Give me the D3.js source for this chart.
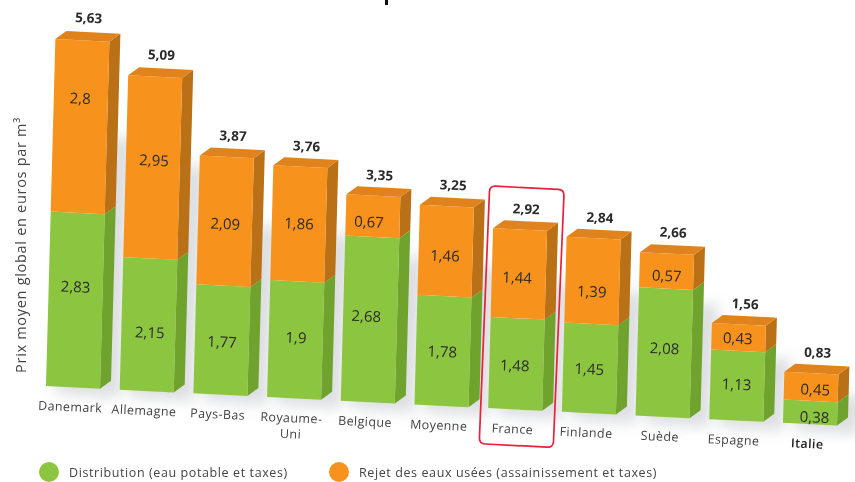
<!DOCTYPE html>
<html>
<head>
<meta charset="utf-8">
<script src="https://d3js.org/d3.v7.min.js"></script>
<style>
  html, body { margin: 0; padding: 0; background: #fff; }
  text { font-family: "Open Sans", sans-serif; fill: #2b2b2b; }
</style>
</head>
<body>
<div class="chart"></div>
<script>
var svgWidth = 855;
var svgHeight = 482;

// Values
var countries = ["Danemark", "Allemagne", "Pays-Bas", "Royaume-Uni", "Belgique", "Moyenne", "France", "Finlande", "Suède", "Espagne", "Italie"];
var distribution = [2.83, 2.15, 1.77, 1.9, 2.68, 1.78, 1.48, 1.45, 2.08, 1.13, 0.38];
var sewage = [2.8, 2.95, 2.09, 1.86, 0.67, 1.46, 1.44, 1.39, 0.57, 0.43, 0.45];
var totals = [5.63, 5.09, 3.87, 3.76, 3.35, 3.25, 2.92, 2.84, 2.66, 1.56, 0.83];
var legendLabels = ["Distribution (eau potable et taxes)", "Rejet des eaux usées (assainissement et taxes)"];

// The labels inside the bars are not centred in the original: nudges in px (+ is down / right)
var distributionNudge = [-13, 8, 2, -2, -3, 1, 2, 1, -4, -1, 5];
var sewageNudge = [-28, -7, 3, 0, 6, 5, 4, 11, 5, 1, 3];
var innerNudgeX = [0, 1, 0, 0, -4, -1, -2, -1, 0, -1, 4];

var green = { front: "#8cc63f", side: "#6fa32e" };
var orange = { front: "#f7931e", side: "#b96f12", top: "#e0831b" };

// The picture is a sheared 3D view: a flat bar position goes through this
var originX = 46, originY = 386;
var slopeDown = 0.05, lean = 0.027;
var depthX = 11, depthY = -8;

function project(u, v) {
  return [originX + u + lean * v, originY + slopeDown * u - v];
}

var x_scale = d3.scaleBand()
  .domain(countries)
  .range([0, 791])
  .paddingInner(0.267);

var y_scale = d3.scaleLinear()
  .domain([0, 5.63])
  .range([0, 347]);

var fmt = function (d) { return String(d).replace(".", ","); };
var line = function (pts) { return "M" + pts.map(function (p) { return p.join(","); }).join("L") + "Z"; };
var shift = function (p, dx, dy) { return [p[0] + dx, p[1] + dy]; };

var svg = d3.select(".chart")
  .append("svg")
  .attr("width", svgWidth)
  .attr("height", svgHeight)
  .style("display", "block");

var defs = svg.append("defs");
defs.append("filter").attr("id", "soft")
  .attr("x", "-40%").attr("y", "-20%").attr("width", "180%").attr("height", "140%")
  .append("feGaussianBlur").attr("stdDeviation", 7);
defs.append("filter").attr("id", "scan")
  .append("feGaussianBlur").attr("stdDeviation", 0.45);

// What is left of the cropped title: a single stroke at the top edge
svg.append("rect")
  .attr("x", 385).attr("y", 0)
  .attr("width", 3).attr("height", 5)
  .attr("fill", "#111");

var chartGroup = svg.append("g").attr("filter", "url(#scan)");

// Soft shadow behind each bar
chartGroup.selectAll(".shadow")
  .data(countries)
  .enter()
  .append("path")
  .attr("class", "shadow")
  .attr("fill", "#c4c8cc")
  .attr("opacity", 0.6)
  .attr("filter", "url(#soft)")
  .attr("d", function (d, i) {
    var u = x_scale(d), w = x_scale.bandwidth();
    var h = y_scale(distribution[i] + sewage[i]) * 0.75;
    return line([project(u + 10, 0), project(u + w + 14, 0), project(u + w + 20, h), project(u + w, h), project(u, 8)].map(function (p) { return shift(p, 6, 8); }));
  });

// One bar per country, green below and orange on top
function drawSegment(cls, colors, base, size) {
  var bars = chartGroup.selectAll("." + cls)
    .data(countries)
    .enter()
    .append("g")
    .attr("class", cls);

  var corners = function (d, i) {
    var u = x_scale(d), w = x_scale.bandwidth();
    var v0 = y_scale(base(i)), v1 = y_scale(base(i) + size[i]);
    return { bl: project(u, v0), br: project(u + w, v0), tr: project(u + w, v1), tl: project(u, v1) };
  };

  bars.append("path")
    .attr("fill", colors.side)
    .attr("d", function (d, i) {
      var c = corners(d, i);
      return line([c.br, shift(c.br, depthX, depthY), shift(c.tr, depthX, depthY), c.tr]);
    });

  bars.append("path")
    .attr("fill", colors.front)
    .attr("d", function (d, i) {
      var c = corners(d, i);
      return line([c.bl, c.br, c.tr, c.tl]);
    });

  if (colors.top) {
    bars.append("path")
      .attr("fill", colors.top)
      .attr("d", function (d, i) {
        var c = corners(d, i);
        return line([c.tl, c.tr, shift(c.tr, depthX, depthY), shift(c.tl, depthX, depthY)]);
      });
  }
}

drawSegment("distribution", green, function () { return 0; }, distribution);
drawSegment("sewage", orange, function (i) { return distribution[i]; }, sewage);

// Red frame round France
var frameI = countries.indexOf("France");
var frameU = x_scale("France");
var frameW = x_scale.bandwidth();
var frameBottom = -36, frameTop = y_scale(totals[frameI]) + 42;
var framePts = [
  project(frameU - 8, frameBottom),
  project(frameU + frameW + 12, frameBottom),
  project(frameU + frameW + 16, frameTop),
  project(frameU - 4.5, frameTop)
];
var frameD = "";
framePts.forEach(function (p, i) {
  var prev = framePts[(i + 3) % 4], next = framePts[(i + 1) % 4];
  var a = d3.interpolate(p, prev)(6 / Math.hypot(p[0] - prev[0], p[1] - prev[1]));
  var b = d3.interpolate(p, next)(6 / Math.hypot(p[0] - next[0], p[1] - next[1]));
  frameD += (i === 0 ? "M" : "L") + a.join(",") + "Q" + p.join(",") + " " + b.join(",");
});
chartGroup.append("path")
  .attr("d", frameD + "Z")
  .attr("fill", "none")
  .attr("stroke", "#e8203a")
  .attr("stroke-width", 1.7);

// Labels, tilted a little like the sheared bars
function placeText(sel, fn) {
  sel.attr("transform", function (d, i) {
    var p = fn(d, i);
    return "translate(" + p[0] + "," + p[1] + ") rotate(2.5)";
  }).attr("text-anchor", "middle");
}

var w = x_scale.bandwidth();

placeText(chartGroup.selectAll(".inner-g")
  .data(distribution)
  .enter()
  .append("text")
  .attr("class", "inner-g")
  .attr("font-size", 15)
  .text(fmt), function (d, i) {
    return shift(project(x_scale(countries[i]) + w / 2, y_scale(d / 2)), innerNudgeX[i], 5 + distributionNudge[i]);
  });

placeText(chartGroup.selectAll(".inner-o")
  .data(sewage)
  .enter()
  .append("text")
  .attr("class", "inner-o")
  .attr("font-size", 15)
  .text(fmt), function (d, i) {
    return shift(project(x_scale(countries[i]) + w / 2, y_scale(distribution[i] + d / 2)), innerNudgeX[i], 5 + sewageNudge[i]);
  });

placeText(chartGroup.selectAll(".total")
  .data(totals)
  .enter()
  .append("text")
  .attr("class", "total")
  .attr("font-size", 13.5)
  .attr("font-weight", 700)
  .text(fmt), function (d, i) {
    return shift(project(x_scale(countries[i]) + w / 2 + 6, y_scale(d)), 0, -17 + (i < 2 ? -1 : 1));
  });

// Country names, Royaume-Uni splits over two lines
placeText(chartGroup.selectAll(".country")
  .data(countries)
  .enter()
  .append("text")
  .attr("class", "country")
  .attr("font-size", 12.5)
  .attr("letter-spacing", 0.4)
  .attr("font-weight", function (d) { return d === "Italie" ? 600 : 400; })
  .style("fill", function (d) { return d === "Italie" ? "#222" : "#444"; })
  .each(function (d) {
    var parts = d === "Royaume-Uni" ? ["Royaume-", "Uni"] : [d];
    d3.select(this).selectAll("tspan")
      .data(parts)
      .enter()
      .append("tspan")
      .attr("x", 0)
      .attr("dy", function (t, j) { return j ? 16 : 0; })
      .text(function (t) { return t; });
  }), function (d, i) {
    return shift(project(x_scale(d) + w / 2 - 3, 0), 0, 24);
  });

// Y label
chartGroup.append("text")
  .attr("transform", "translate(26,245) rotate(-90)")
  .attr("text-anchor", "middle")
  .attr("font-size", 14.5)
  .attr("letter-spacing", 0.7)
  .style("fill", "#444")
  .text("Prix moyen global en euros par m³");

// Legend
var legendX = [49, 339];
var legendColors = [green.front, orange.front];
var legend = chartGroup.selectAll(".legend")
  .data(legendLabels)
  .enter()
  .append("g")
  .attr("class", "legend")
  .attr("transform", function (d, i) { return "translate(" + legendX[i] + ",472)"; });

legend.append("circle")
  .attr("r", 10)
  .attr("fill", function (d, i) { return legendColors[i]; });

legend.append("text")
  .attr("x", 20)
  .attr("y", 5)
  .attr("font-size", 12.5)
  .attr("letter-spacing", 0.6)
  .style("fill", "#444")
  .text(function (d) { return d; });
</script>
</body>
</html>
